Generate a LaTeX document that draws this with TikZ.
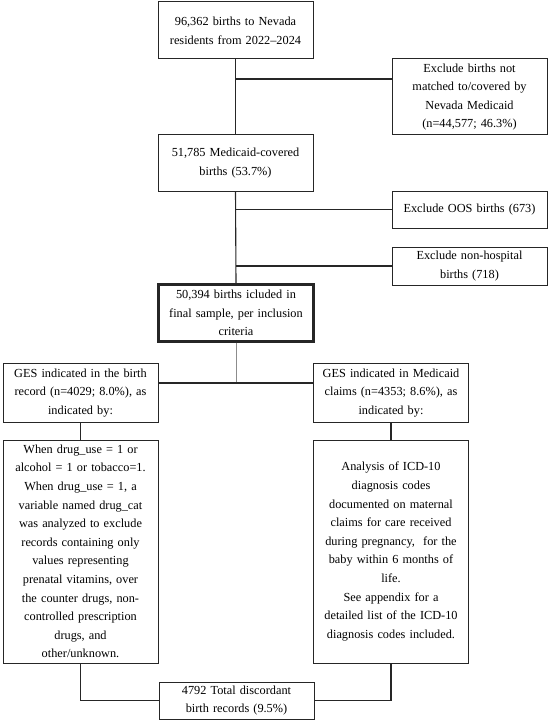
\documentclass[tikz,border=0pt]{standalone}
\usepackage{fontspec}
\setmainfont{Liberation Serif}
\begin{document}
\begin{tikzpicture}[x=1pt,y=-1pt,
  box/.style={draw=black!85, line width=1pt, inner sep=0pt, align=center,
    text width=155pt, font=\fontsize{12.3}{18.6}\selectfont},
  thickbox/.style={box, line width=2.3pt},
  conn/.style={draw=black!85, line width=1.1pt},
  grayconn/.style={draw=black!45, line width=1pt}]
\useasboundingbox (0,0) rectangle (550,722);
% main column
\node[box, minimum height=57pt] (b1) at (235.5,30.5) {96,362 births to Nevada\\residents from 2022--2024};
\node[box, minimum height=76pt] (ex1) at (469.5,97) {Exclude births not\\matched to/covered by\\Nevada Medicaid\\(n=44,577; 46.3\%)};
\node[box, minimum height=56pt] (b2) at (235.5,163) {51,785 Medicaid-covered\\births (53.7\%)};
\node[box, minimum height=37pt] (ex2) at (469.5,209.5) {Exclude OOS births (673)};
\node[box, minimum height=38pt] (ex3) at (469.5,266) {Exclude non-hospital\\births (718)};
\node[thickbox, minimum height=57pt] (b3) at (236,313) {50,394 births icluded in\\final sample, per inclusion\\criteria};
% two branches
\node[box, minimum height=59pt] (g1) at (80.5,393) {GES indicated in the birth\\record (n=4029; 8.0\%), as\\indicated by:};
\node[box, minimum height=59pt] (g2) at (391,393) {GES indicated in Medicaid\\claims (n=4353; 8.6\%), as\\indicated by:};
\node[box, minimum height=223pt] (d1) at (80.5,551.5) {When drug\_use = 1 or\\alcohol = 1 or tobacco=1.\\When drug\_use = 1, a\\variable named drug\_cat\\was analyzed to exclude\\records containing only\\values representing\\prenatal vitamins, over\\the counter drugs, non-\\controlled prescription\\drugs, and\\other/unknown.};
\node[box, minimum height=223pt] (d2) at (391,551.5) {Analysis of ICD-10\\diagnosis codes\\documented on maternal\\claims for care received\\during pregnancy,~ for the\\baby within 6 months of\\life.\\See appendix for a\\detailed list of the ICD-10\\diagnosis codes included.};
\node[box, minimum height=37pt] (t) at (236.5,700.5) {4792 Total discordant\\birth records (9.5\%)};
% coordinates
\coordinate (j1) at (236,79);
\coordinate (j2) at (236,209.5);
\coordinate (j3) at (236,266);
\coordinate (j4) at (236,383);
% connectors
\draw[conn] (b1.south) -- (b2.north);
\draw[conn] (j1) -- (j1 -| ex1.west);
\draw[conn] (b2.south) -- (b3.north);
\draw[conn] (j2) -- (ex2.west);
\draw[conn] (j3) -- (ex3.west);
\draw[grayconn] (b3.south) -- (j4);
\draw[conn] (g1.east |- j4) -- (g2.west |- j4);
\draw[conn] (g1.south) -- (d1.north);
\draw[conn] (g2.south) -- (d2.north);
\draw[conn] (d1.south) |- (t.west);
\draw[conn] (d2.south) |- (t.east);
\end{tikzpicture}
\end{document}
